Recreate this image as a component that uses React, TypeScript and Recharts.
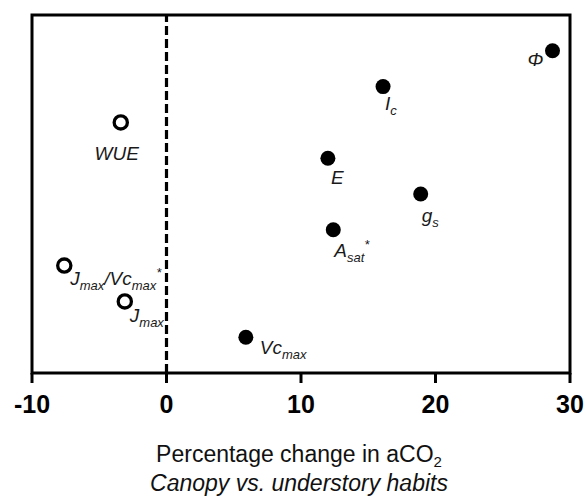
import React from "react";
import {
  ScatterChart,
  Scatter,
  XAxis,
  YAxis,
  ReferenceLine,
  ReferenceArea,
} from "recharts";

// canopy traits (filled) and understory traits (open)
const filledNames = ["Phi", "Ic", "E", "gs", "Asat", "Vcmax"];
const filledChange = [28.7, 16.1, 12.0, 18.9, 12.4, 5.9];
const filledRank = [9, 8, 6, 5, 4, 1];

const openNames = ["WUE", "JmaxVcmax", "Jmax"];
const openChange = [-3.4, -7.6, -3.1];
const openRank = [7, 3, 2];

const xTicks = [-10, 0, 10, 20, 30];

type Seg = [string, "n" | "sub" | "sup"];

const labelText: Record<string, Seg[]> = {
  Phi: [["Φ", "n"]],
  Ic: [["I", "n"], ["c", "sub"]],
  E: [["E", "n"]],
  gs: [["g", "n"], ["s", "sub"]],
  Asat: [["A", "n"], ["sat", "sub"], ["*", "sup"]],
  Vcmax: [["Vc", "n"], ["max", "sub"]],
  WUE: [["WUE", "n"]],
  JmaxVcmax: [
    ["J", "n"],
    ["max", "sub"],
    ["/Vc", "n"],
    ["max", "sub"],
    ["*", "sup"],
  ],
  Jmax: [["J", "n"], ["max", "sub"]],
};

const labelPos: Record<string, { dx: number; dy: number; anchor: string }> = {
  Phi: { dx: -9, dy: 15, anchor: "end" },
  Ic: { dx: 2, dy: 23, anchor: "start" },
  E: { dx: 3, dy: 26, anchor: "start" },
  gs: { dx: 1, dy: 28, anchor: "start" },
  Asat: { dx: 1, dy: 27, anchor: "start" },
  Vcmax: { dx: 14, dy: 17, anchor: "start" },
  WUE: { dx: -4, dy: 38, anchor: "middle" },
  JmaxVcmax: { dx: 6, dy: 19, anchor: "start" },
  Jmax: { dx: 5, dy: 21, anchor: "start" },
};

const filledData = filledNames.map((name, i) => ({
  name,
  x: filledChange[i],
  y: filledRank[i],
}));
const openData = openNames.map((name, i) => ({
  name,
  x: openChange[i],
  y: openRank[i],
}));

const FONT = "'Liberation Sans', Arial, sans-serif";

const PointLabel = ({ cx, cy, name }: { cx: number; cy: number; name: string }) => {
  const pos = labelPos[name];
  const segs = labelText[name] || [];
  let shift = 0;
  return (
    <text
      x={cx + pos.dx}
      y={cy + pos.dy}
      textAnchor={pos.anchor as any}
      fontFamily={FONT}
      fontStyle="italic"
      fontSize={19}
      fill="#1a1a1a"
    >
      {segs.map(([t, kind], i) => {
        const target = kind === "sub" ? 5 : kind === "sup" ? -8 : 0;
        const d = target - shift;
        shift = target;
        return (
          <tspan key={i} dy={d} fontSize={kind === "n" ? 19 : 13}>
            {t}
          </tspan>
        );
      })}
    </text>
  );
};

const FilledDot = (props: any) => {
  const { cx, cy, payload } = props;
  return (
    <g>
      <circle cx={cx} cy={cy} r={7.5} fill="#000" />
      <PointLabel cx={cx} cy={cy} name={payload.name} />
    </g>
  );
};

const OpenDot = (props: any) => {
  const { cx, cy, payload } = props;
  return (
    <g>
      <circle cx={cx} cy={cy} r={6.6} fill="#fff" stroke="#000" strokeWidth={3.3} />
      <PointLabel cx={cx} cy={cy} name={payload.name} />
    </g>
  );
};

const AxisTitle = (props: any) => {
  const vb = props.viewBox || {};
  const cx = vb.x + vb.width / 2 - 2;
  return (
    <g fontFamily={FONT} fontSize={23} fill="#111">
      <text x={cx} y={462} textAnchor="middle">
        Percentage change in aCO
        <tspan fontSize={15} dy={5}>
          2
        </tspan>
      </text>
      <text x={cx} y={491} textAnchor="middle" fontStyle="italic">
        Canopy vs. understory habits
      </text>
    </g>
  );
};

export default function App() {
  return (
    <div style={{ position: "absolute", left: 0, top: 0, background: "#fff" }}>
      <ScatterChart
        width={586}
        height={500}
        margin={{ top: 15, right: 16, bottom: 0, left: 32 }}
      >
        <XAxis
          type="number"
          dataKey="x"
          domain={[-10, 30]}
          ticks={xTicks}
          allowDataOverflow
          axisLine={false}
          tickLine={{ stroke: "#000", strokeWidth: 3 }}
          tickSize={10}
          tickMargin={12}
          height={127}
          tick={{
            fill: "#000",
            fontSize: 25,
            fontWeight: "bold",
            fontFamily: FONT,
          }}
          label={<AxisTitle />}
        />
        <YAxis type="number" dataKey="y" domain={[0, 10]} hide />
        <ReferenceArea
          x1={-10}
          x2={30}
          y1={0}
          y2={10}
          fill="none"
          stroke="#000"
          strokeWidth={3}
        />
        <ReferenceLine
          x={0}
          stroke="#000"
          strokeWidth={3.2}
          strokeDasharray="9 4"
        />
        <Scatter
          data={filledData}
          shape={FilledDot}
          isAnimationActive={false}
        />
        <Scatter data={openData} shape={OpenDot} isAnimationActive={false} />
      </ScatterChart>
    </div>
  );
}
